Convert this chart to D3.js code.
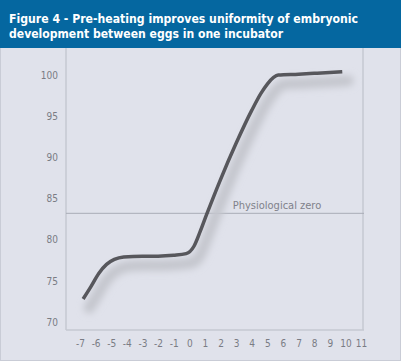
<!DOCTYPE html>
<html>
<head>
<meta charset="utf-8">
<script src="https://cdn.jsdelivr.net/npm/d3@7"></script>
<style>
  body { margin: 0; background: #e0e2eb; }
  svg { display: block; }
  .tick-label { font-family: "Liberation Sans Narrow", "DejaVu Sans Condensed", sans-serif; font-size: 10px; fill: #7a7c84; }
</style>
</head>
<body>
<div class="chart"></div>
<script>
var width = 401,
    height = 361;

// curve
var days = [-6.8, -6.3, -5.8, -5.3, -4.8, -4.2, -3, -2, -1, -0.2, 0.3, 0.7, 1.1, 2, 3, 4, 4.6, 5, 5.4, 5.7, 7, 8, 9, 9.8];
var development = [72.8, 74.3, 75.9, 77.0, 77.6, 77.9, 78.0, 78.0, 78.1, 78.3, 79.2, 81.0, 83.0, 87.3, 91.7, 95.7, 97.8, 98.9, 99.7, 100.0, 100.1, 100.2, 100.3, 100.4];

var xTicks = d3.range(-7, 12);
var yTicks = [70, 75, 80, 85, 90, 95, 100];
var physiologicalZero = 83.2;

var titleLines = ["Figure 4 - Pre-heating improves uniformity of embryonic",
                  "development between eggs in one incubator"];

var svg = d3.select('.chart').append("svg")
    .attr("width", width)
    .attr("height", height);

var x = d3.scaleLinear().domain([-7, 11]).range([80, 361]);
var y = d3.scaleLinear().domain([70, 100]).range([322, 75]);

/////////////////////////////// SHADOW FILTER ///////////////////////////////
var defs = svg.append("defs");
var filter = defs.append("filter")
    .attr("id", "soft")
    .attr("x", "-20%").attr("y", "-20%")
    .attr("width", "140%").attr("height", "140%");
filter.append("feGaussianBlur")
    .attr("stdDeviation", 3.5);

// background + border
svg.append("rect")
    .attr("x", 0.5).attr("y", 0.5)
    .attr("width", width - 1).attr("height", height - 1)
    .attr("fill", "#e0e2eb")
    .attr("stroke", "#c9ccd6");

// header
svg.append("rect")
    .attr("x", 0).attr("y", 0)
    .attr("width", width).attr("height", 48)
    .attr("fill", "#0567a0");

svg.selectAll(".title")
    .data(titleLines)
    .enter().append("text")
    .attr("class", "title")
    .attr("x", 9)
    .attr("y", function(d, i) { return 23 + i * 14.5; })
    .attr("textLength", function(d, i) { return i == 0 ? 349 : 274; })
    .attr("lengthAdjust", "spacingAndGlyphs")
    .style("font-family", "'Liberation Sans Narrow', 'DejaVu Sans Condensed', sans-serif")
    .style("font-weight", "bold")
    .style("font-size", "13px")
    .style("fill", "#ffffff")
    .text(function(d) { return d; });

// plot frame
var frame = svg.append("g")
    .attr("stroke", "#c6c9d2")
    .attr("stroke-width", 1.5)
    .attr("fill", "none");
frame.append("line").attr("x1", 66).attr("x2", 66).attr("y1", 48).attr("y2", 330);
frame.append("line").attr("x1", 363).attr("x2", 363).attr("y1", 48).attr("y2", 330);
frame.append("line").attr("x1", 66).attr("x2", 364).attr("y1", 330).attr("y2", 330);

// physiological zero
svg.append("line")
    .attr("x1", 66).attr("x2", 364)
    .attr("y1", y(physiologicalZero)).attr("y2", y(physiologicalZero))
    .attr("stroke", "#a9acb6")
    .attr("stroke-width", 1);

svg.append("text")
    .attr("x", 277)
    .attr("y", y(physiologicalZero) - 4)
    .attr("text-anchor", "middle")
    .style("font-family", "'Liberation Sans Narrow', 'DejaVu Sans Condensed', sans-serif")
    .style("font-size", "11px")
    .style("fill", "#7f818a")
    .text("Physiological zero");

// axes (labels only)
var fmt = function(d) { return String(d); };

var xAxis = svg.append("g")
    .attr("transform", "translate(0,330)")
    .call(d3.axisBottom(x).tickValues(xTicks).tickFormat(fmt).tickSize(0).tickPadding(10));
xAxis.select(".domain").remove();
xAxis.selectAll("text").attr("class", "tick-label").attr("fill", null);

var yAxis = svg.append("g")
    .attr("transform", "translate(66,0)")
    .call(d3.axisLeft(y).tickValues(yTicks).tickFormat(fmt).tickSize(0).tickPadding(8));
yAxis.select(".domain").remove();
yAxis.selectAll("text").attr("class", "tick-label").attr("fill", null);

// curve
var data = days.map(function(d, i) { return { day: d, value: development[i] }; });

var line = d3.line()
    .x(function(d) { return x(d.day); })
    .y(function(d) { return y(d.value); })
    .curve(d3.curveMonotoneX);

svg.append("path")
    .datum(data)
    .attr("d", line)
    .attr("transform", "translate(6,9)")
    .attr("fill", "none")
    .attr("stroke", "#c4c6cd")
    .attr("stroke-width", 11)
    .attr("stroke-linecap", "round")
    .style("filter", "url(#soft)");

svg.append("path")
    .datum(data)
    .attr("d", line)
    .attr("fill", "none")
    .attr("stroke", "#57575c")
    .attr("stroke-width", 3.5)
    .attr("stroke-linejoin", "round");
</script>
</body>
</html>
